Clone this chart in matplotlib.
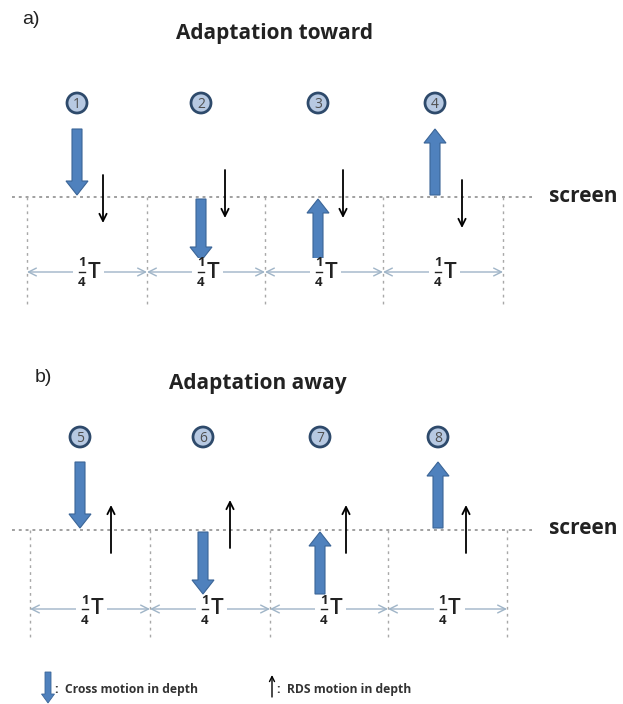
import matplotlib
matplotlib.use("Agg")
import matplotlib.pyplot as plt
from matplotlib.patches import Circle, FancyArrow

plt.rcParams['font.family'] = ['Open Sans', 'DejaVu Sans']

# panel data
panel_tags = ["a)", "b)"]
panel_titles = ["Adaptation toward", "Adaptation away"]
phase_labels = [["1", "2", "3", "4"], ["5", "6", "7", "8"]]
# cross (big blue) arrows: direction and side of screen
cross_dir = [["down", "down", "up", "up"], ["down", "down", "up", "up"]]
cross_side = [["above", "below", "below", "above"], ["above", "below", "below", "above"]]
# RDS (thin black) arrows
rds_dir = [["down", "down", "down", "down"], ["up", "up", "up", "up"]]
frac_num, frac_den, period_sym = "1", "4", "T"
legend_labels = [":  Cross motion in depth", ":  RDS motion in depth"]

# layout (pixels)
W, H = 623, 704
screen_y = [197, 530]
tag_xy = [(22, 20), (35, 378)]
title_xy = [(275, 33), (258, 383)]
circle_y = [103, 437]
phase_x = [[77, 201, 318, 435], [80, 203, 320, 438]]
rds_x = [[103, 225, 343, 462], [111, 230, 346, 466]]
rds_top = [[175, 170, 170, 180], [505, 500, 505, 505]]
rds_len = 48
vlines_x = [[27, 147, 265, 383, 503], [30, 150, 270, 388, 507]]
period_y = [272, 609]
cross_len = 64
blue = "#4f81bd"
blue_edge = "#3b6597"
grey_blue = "#9fb4c7"

fig = plt.figure(figsize=(W / 100, H / 100), dpi=100)
ax = fig.add_axes([0, 0, 1, 1])
ax.set_xlim(0, W)
ax.set_ylim(H, 0)
ax.axis("off")

for p in range(2):
    sy = screen_y[p]
    ax.text(tag_xy[p][0], tag_xy[p][1], panel_tags[p], fontsize=14,
            family="Liberation Sans", ha="left", va="center", color="#222222")
    ax.text(title_xy[p][0], title_xy[p][1], panel_titles[p], fontsize=15,
            fontweight="bold", ha="center", va="center", color="#222222")

    # screen line
    ax.plot([12, 532], [sy, sy], ls=(0, (1.5, 2)), color="#a0a0a0", lw=1.4)
    ax.text(549, sy - 1, "screen", fontsize=15, fontweight="bold",
            ha="left", va="center", color="#222222")

    # vertical divisions
    for vx in vlines_x[p]:
        ax.plot([vx, vx], [sy, sy + 110], ls=(0, (2, 3)), color="#a8a8a8", lw=1)

    # quarter period arrows with 1/4 T labels
    for i in range(4):
        x0, x1 = vlines_x[p][i], vlines_x[p][i + 1]
        yc = period_y[p]
        xm = (x0 + x1) / 2
        ax.annotate("", xy=(x1, yc), xytext=(x0, yc),
                    arrowprops=dict(arrowstyle="<->", color=grey_blue, lw=1,
                                    mutation_scale=14, shrinkA=0, shrinkB=0))
        ax.add_patch(plt.Rectangle((xm - 14, yc - 14), 31, 28, facecolor="white",
                                   edgecolor="none", zorder=3))
        ax.text(xm - 5, yc - 9, frac_num, fontsize=9.5, fontweight="bold",
                ha="center", va="center", zorder=4, color="#222222")
        ax.plot([xm - 8, xm - 2], [yc, yc], color="#222222", lw=1, zorder=4)
        ax.text(xm - 5, yc + 11, frac_den, fontsize=9.5, fontweight="bold",
                ha="center", va="center", zorder=4, color="#222222")
        ax.text(xm + 7, yc, period_sym, fontsize=16, fontweight="semibold",
                ha="center", va="center", zorder=4, color="#222222")

    for i in range(4):
        cx = phase_x[p][i]
        # numbered badge
        ax.add_patch(Circle((cx, circle_y[p]), 10, facecolor="#b7c9e2",
                            edgecolor="#2e4a6b", lw=2))
        ax.text(cx, circle_y[p] + 1, phase_labels[p][i], fontsize=10,
                color="#505050", ha="center", va="center")

        # cross arrow
        if cross_side[p][i] == "above":
            y_near, y_far = sy - 2, sy - cross_len - 4
        else:
            y_near, y_far = sy + 2, sy + cross_len
        if cross_dir[p][i] == "down":
            y0, y1 = min(y_near, y_far), max(y_near, y_far)
        else:
            y0, y1 = max(y_near, y_far), min(y_near, y_far)
        ax.add_patch(FancyArrow(cx, y0, 0, y1 - y0, width=10, head_width=22,
                                head_length=14, length_includes_head=True,
                                facecolor=blue, edgecolor=blue_edge, lw=0.8))

        # RDS arrow
        rx = rds_x[p][i]
        top = rds_top[p][i]
        if rds_dir[p][i] == "down":
            start, end = top, top + rds_len
        else:
            start, end = top + rds_len, top
        ax.annotate("", xy=(rx, end), xytext=(rx, start),
                    arrowprops=dict(arrowstyle="->", color="black", lw=1.3,
                                    mutation_scale=13, shrinkA=0, shrinkB=0))

# legend
ax.add_patch(FancyArrow(48, 672, 0, 31, width=6, head_width=13, head_length=9,
                        length_includes_head=True, facecolor=blue,
                        edgecolor=blue_edge, lw=0.6))
ax.text(55, 690, legend_labels[0], fontsize=8.7, fontweight="bold",
        ha="left", va="center", color="#333333")
ax.annotate("", xy=(272, 675), xytext=(272, 697),
            arrowprops=dict(arrowstyle="->", color="black", lw=1,
                            mutation_scale=9, shrinkA=0, shrinkB=0))
ax.text(277, 690, legend_labels[1], fontsize=8.7, fontweight="bold",
        ha="left", va="center", color="#333333")

fig.savefig("out.png", dpi=100)
